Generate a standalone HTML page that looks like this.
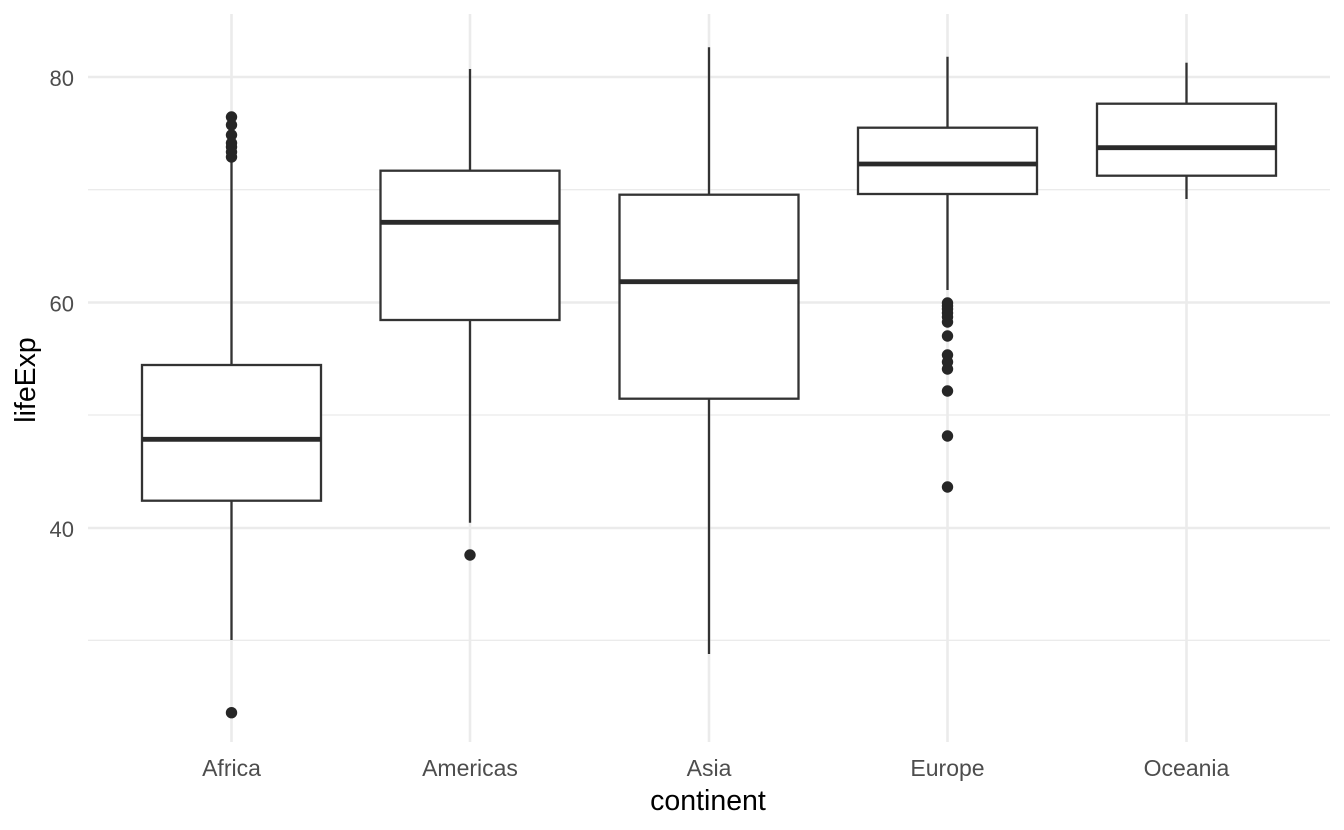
<!DOCTYPE html>
<html>
<head>
<meta charset="utf-8">
<style>
html,body{margin:0;padding:0;background:#fff;}
svg{display:block;}
text{font-family:"Liberation Sans",Arial,sans-serif;}
</style>
</head>
<body>
<svg width="1344" height="830" viewBox="0 0 1344 830" xmlns="http://www.w3.org/2000/svg">
<rect width="1344" height="830" fill="#fff"/>
<!-- minor gridlines -->
<g stroke="#ebebeb" stroke-width="1.3">
<line x1="88" x2="1330" y1="189.7" y2="189.7"/>
<line x1="88" x2="1330" y1="415" y2="415"/>
<line x1="88" x2="1330" y1="640.3" y2="640.3"/>
</g>
<!-- major gridlines -->
<g stroke="#ebebeb" stroke-width="2.6">
<line x1="88" x2="1330" y1="77" y2="77"/>
<line x1="88" x2="1330" y1="302.5" y2="302.5"/>
<line x1="88" x2="1330" y1="528" y2="528"/>
<line x1="231.5" x2="231.5" y1="14" y2="742"/>
<line x1="470" x2="470" y1="14" y2="742"/>
<line x1="709" x2="709" y1="14" y2="742"/>
<line x1="947.5" x2="947.5" y1="14" y2="742"/>
<line x1="1186.5" x2="1186.5" y1="14" y2="742"/>
</g>
<!-- boxes -->
<g stroke="#333333" stroke-width="2.3" fill="#fff">
<!-- Africa -->
<line x1="231.5" x2="231.5" y1="160" y2="365"/>
<line x1="231.5" x2="231.5" y1="500.7" y2="640"/>
<rect x="142" y="365" width="179" height="135.7"/>
<line x1="142" x2="321" y1="439.3" y2="439.3" stroke-width="4.8" stroke="#2a2a2a"/>
<!-- Americas -->
<line x1="470" x2="470" y1="69" y2="170.7"/>
<line x1="470" x2="470" y1="320" y2="522.7"/>
<rect x="380.5" y="170.7" width="179" height="149.3"/>
<line x1="380.5" x2="559.5" y1="222.3" y2="222.3" stroke-width="4.8" stroke="#2a2a2a"/>
<!-- Asia -->
<line x1="709" x2="709" y1="47.3" y2="194.7"/>
<line x1="709" x2="709" y1="398.7" y2="654"/>
<rect x="619.5" y="194.7" width="179" height="204"/>
<line x1="619.5" x2="798.5" y1="281.7" y2="281.7" stroke-width="4.8" stroke="#2a2a2a"/>
<!-- Europe -->
<line x1="947.5" x2="947.5" y1="56.7" y2="127.7"/>
<line x1="947.5" x2="947.5" y1="194" y2="290"/>
<rect x="858" y="127.7" width="179" height="66.3"/>
<line x1="858" x2="1037" y1="164" y2="164" stroke-width="4.8" stroke="#2a2a2a"/>
<!-- Oceania -->
<line x1="1186.5" x2="1186.5" y1="62.7" y2="103.7"/>
<line x1="1186.5" x2="1186.5" y1="175.7" y2="199"/>
<rect x="1097" y="103.7" width="179" height="72"/>
<line x1="1097" x2="1276" y1="147.7" y2="147.7" stroke-width="4.8" stroke="#2a2a2a"/>
</g>
<!-- outliers -->
<g fill="#262626">
<circle cx="231.5" cy="117" r="5.7"/>
<circle cx="231.5" cy="125" r="5.7"/>
<circle cx="231.5" cy="135" r="5.7"/>
<circle cx="231.5" cy="143" r="5.7"/>
<circle cx="231.5" cy="147" r="5.7"/>
<circle cx="231.5" cy="152" r="5.7"/>
<circle cx="231.5" cy="157" r="5.7"/>
<circle cx="231.5" cy="712.7" r="5.7"/>
<circle cx="470" cy="555" r="5.7"/>
<circle cx="947.5" cy="303" r="5.7"/>
<circle cx="947.5" cy="306" r="5.7"/>
<circle cx="947.5" cy="309" r="5.7"/>
<circle cx="947.5" cy="313" r="5.7"/>
<circle cx="947.5" cy="317" r="5.7"/>
<circle cx="947.5" cy="322" r="5.7"/>
<circle cx="947.5" cy="336" r="5.7"/>
<circle cx="947.5" cy="355" r="5.7"/>
<circle cx="947.5" cy="362" r="5.7"/>
<circle cx="947.5" cy="369" r="5.7"/>
<circle cx="947.5" cy="391" r="5.7"/>
<circle cx="947.5" cy="436" r="5.7"/>
<circle cx="947.5" cy="487" r="5.7"/>
</g>
<!-- y tick labels -->
<g fill="#4d4d4d" font-size="22" text-anchor="end">
<text x="74" y="86">80</text>
<text x="74" y="311.5">60</text>
<text x="74" y="537">40</text>
</g>
<!-- x tick labels -->
<g fill="#4d4d4d" font-size="23" text-anchor="middle">
<text x="231.5" y="776">Africa</text>
<text x="470" y="776">Americas</text>
<text x="709" y="776">Asia</text>
<text x="947.5" y="776">Europe</text>
<text x="1186.5" y="776">Oceania</text>
</g>
<!-- axis titles -->
<text x="708" y="810" font-size="28.5" text-anchor="middle" fill="#000">continent</text>
<text transform="translate(35,380) rotate(-90)" font-size="28.5" text-anchor="middle" fill="#000">lifeExp</text>
</svg>
</body>
</html>
